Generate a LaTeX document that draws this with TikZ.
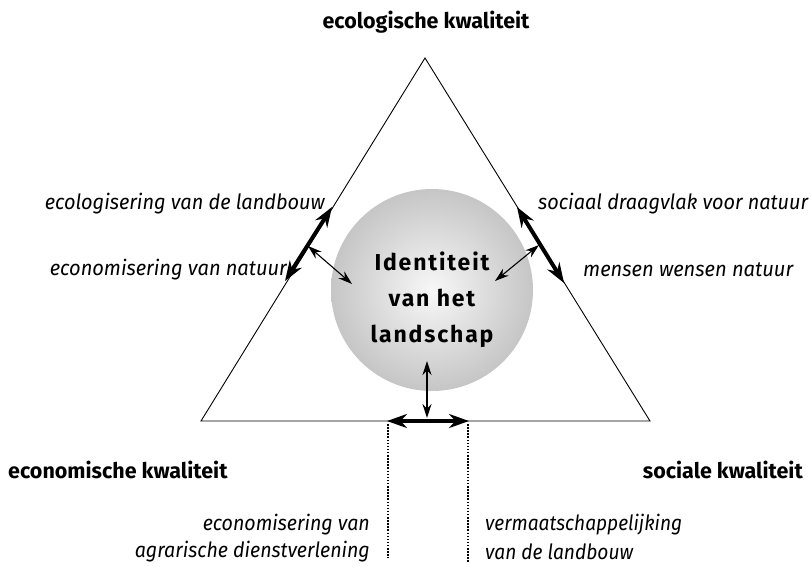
\documentclass[tikz,border=0pt]{standalone}
\usepackage{fontspec}
\usepackage{graphicx}
\setmainfont{Fira Sans}
\usetikzlibrary{arrows.meta}
\newcommand{\fitw}[2]{\resizebox{#1}{\height}{#2}}
\begin{document}
\begin{tikzpicture}[x=1pt,y=-1pt,
  lbl/.style={font=\itshape\fontsize{21}{24}\selectfont, inner sep=0pt},
  ttl/.style={font=\bfseries\fontsize{21.5}{24}\selectfont, inner sep=0pt},
  bigarr/.style={line width=4pt, {Stealth[length=20pt,width=14pt]}-{Stealth[length=20pt,width=14pt]}},
  smallarr/.style={line width=1.1pt, {Stealth[length=14pt,width=9pt]}-{Stealth[length=14pt,width=9pt]}},
  dotline/.style={line width=1.5pt, dash pattern=on 1.5pt off 1.6pt}]
\useasboundingbox (0,0) rectangle (811,566);
% triangle
\coordinate (top) at (425,58);
\coordinate (bl) at (201,421);
\coordinate (br) at (650,421);
\draw[line width=0.9pt, line join=miter] (top) -- (bl) -- (br) -- cycle;
% circle
\node[circle, minimum size=202pt, inner sep=0pt, shading=radial, inner color=gray!6, outer color=gray!45] (id) at (432,290) {};
\node[font=\bfseries\fontsize{23}{36}\selectfont, align=center, inner sep=0pt] (idt) at (432,300) {\addfontfeature{LetterSpace=8}Identiteit\\\addfontfeature{LetterSpace=8}van het\\\addfontfeature{LetterSpace=8}landschap};
% left arrows
\coordinate (l1) at (332,207);
\coordinate (l2) at (285,281);
\coordinate (lm) at (308,246);
\coordinate (lc) at (352,284);
\draw[bigarr] (l1) -- (l2);
\draw[smallarr] (lm) -- (lc);
% right arrows
\coordinate (r1) at (517,207);
\coordinate (r2) at (564,283);
\coordinate (rm) at (539,245);
\coordinate (rc) at (495,281);
\draw[bigarr] (r1) -- (r2);
\draw[smallarr] (rm) -- (rc);
% bottom arrows
\coordinate (b1) at (387,421);
\coordinate (b2) at (469,421);
\coordinate (bm) at (427,418);
\coordinate (bc) at (427,361);
\draw[bigarr] (b1) -- (b2);
\draw[smallarr] (bm) -- (bc);
% dotted lines
\coordinate (d1) at (388,558);
\coordinate (d2) at (468,562);
\draw[dotline] (b1) ++(1,3) -- (d1);
\draw[dotline] (b2) ++(-1,3) -- (d2);
% titles
\node[ttl] (t1) at (426,22) {ecologische kwaliteit};
\node[ttl, anchor=west] (t2) at (8,470) {economische kwaliteit};
\node[ttl, anchor=east] (t3) at (803,470) {sociale kwaliteit};
% labels
\node[lbl, anchor=east] (a1) at (325,204) {\fitw{280pt}{ecologisering van de landbouw}};
\node[lbl, anchor=east] (a2) at (287,270) {\fitw{237pt}{economisering van natuur}};
\node[lbl, anchor=west] (a3) at (538,204) {\fitw{270pt}{sociaal draagvlak voor natuur}};
\node[lbl, anchor=west] (a4) at (583,270) {\fitw{210pt}{mensen wensen natuur}};
\node[lbl, anchor=east] (a5) at (370,525) {\fitw{167pt}{economisering van}};
\node[lbl, anchor=east] (a6) at (370,552) {\fitw{235pt}{agrarische dienstverlening}};
\node[lbl, anchor=west] (a7) at (485,525) {\fitw{197pt}{vermaatschappelijking}};
\node[lbl, anchor=west] (a8) at (485,552) {\fitw{148pt}{van de landbouw}};
\end{tikzpicture}
\end{document}
